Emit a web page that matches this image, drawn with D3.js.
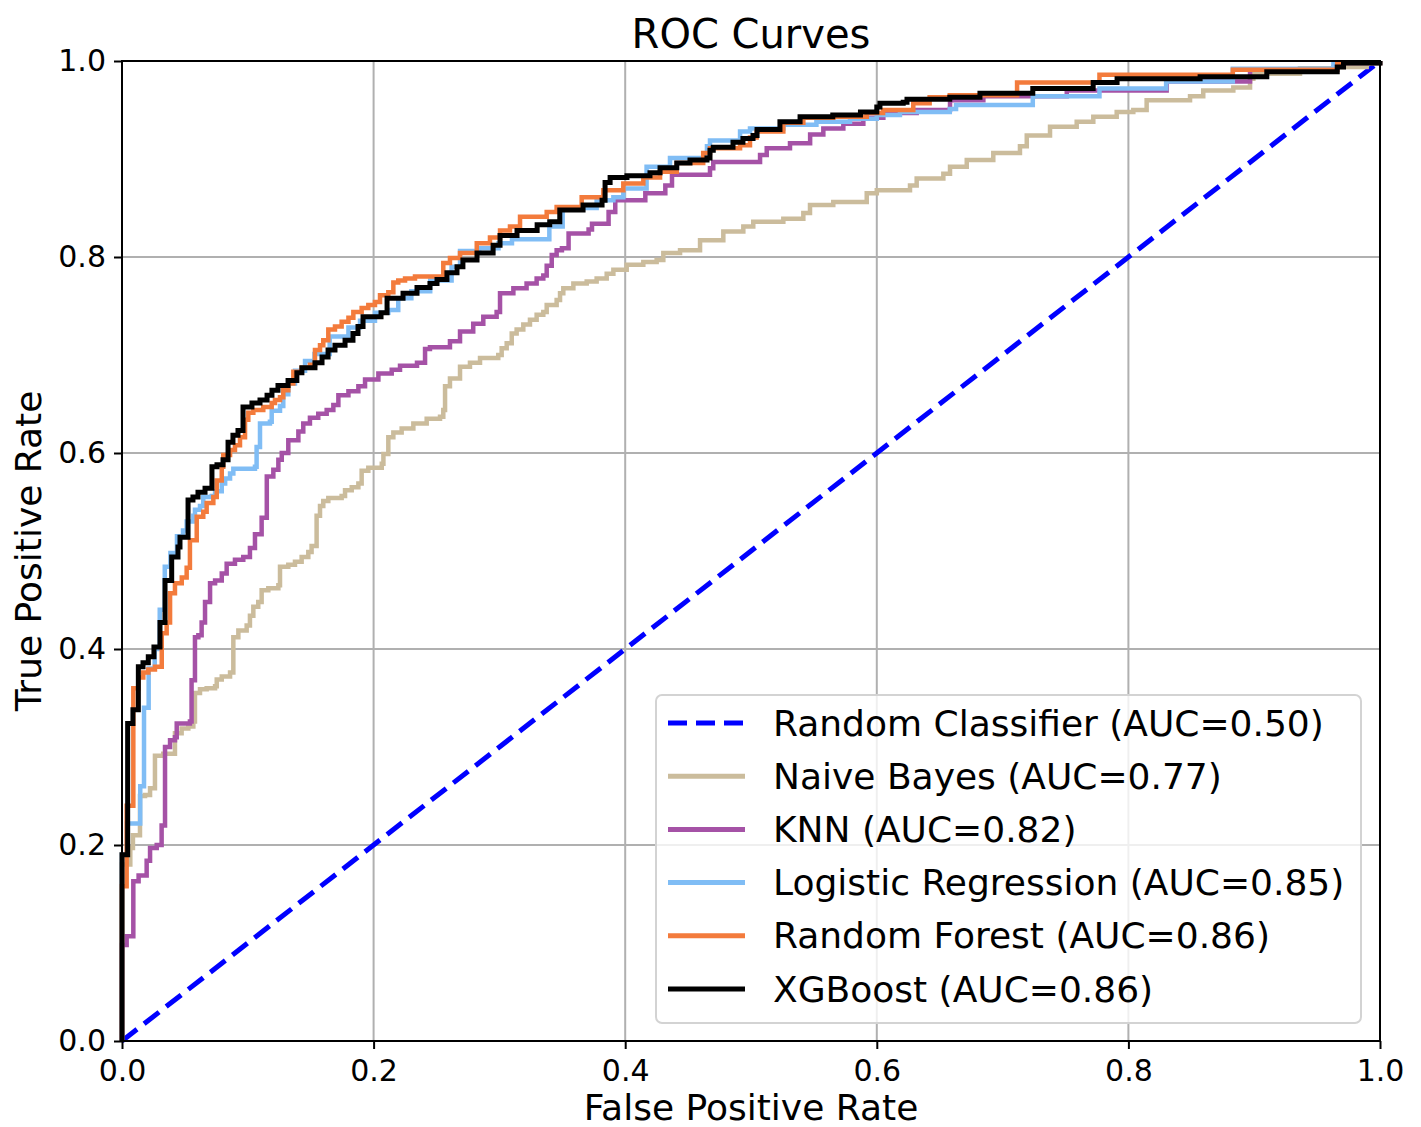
<!DOCTYPE html>
<html>
<head>
<meta charset="utf-8">
<script src="https://cdn.jsdelivr.net/npm/d3@7"></script>
<style>
  body { margin: 0; background: #fff; }
  text { font-family: "DejaVu Sans", sans-serif; fill: #000; }
</style>
</head>
<body>
<svg id="chart" width="1421" height="1127"></svg>
<script>
// ROC points, as [fpr, tpr]
var randomClassifier = [[0, 0], [1, 1]]

var naiveBayes = [[0,0],[0,0.18],[0.0066,0.18],[0.0066,0.197],[0.0087,0.21],[0.0143,0.225],[0.0143,0.25],
  [0.0183,0.251],[0.0223,0.258],[0.0262,0.291],[0.0328,0.293],[0.0421,0.314],[0.0474,0.319],[0.0527,0.321],
  [0.0567,0.326],[0.058,0.355],[0.062,0.359],[0.0673,0.36],[0.074,0.362],[0.0753,0.369],[0.0793,0.372],
  [0.0859,0.376],[0.0885,0.412],[0.0925,0.419],[0.0991,0.424],[0.1017,0.434],[0.1044,0.443],[0.1083,0.448],
  [0.111,0.46],[0.1163,0.462],[0.1243,0.465],[0.1256,0.484],[0.1322,0.486],[0.1375,0.489],[0.1428,0.494],
  [0.1481,0.499],[0.1507,0.505],[0.1547,0.536],[0.1574,0.546],[0.16,0.551],[0.164,0.554],[0.1746,0.556],
  [0.1773,0.562],[0.1826,0.565],[0.1879,0.569],[0.1905,0.582],[0.1958,0.585],[0.2065,0.589],[0.2078,0.599],
  [0.2117,0.616],[0.2157,0.621],[0.2223,0.625],[0.2316,0.63],[0.2422,0.635],[0.2528,0.637],[0.2554,0.644],
  [0.2568,0.668],[0.2607,0.676],[0.2687,0.688],[0.2766,0.692],[0.2846,0.697],[0.2991,0.7],[0.3018,0.707],
  [0.3058,0.712],[0.3098,0.722],[0.3137,0.726],[0.319,0.731],[0.3243,0.736],[0.3296,0.741],[0.3349,0.744],
  [0.3376,0.751],[0.3455,0.756],[0.3482,0.763],[0.3508,0.768],[0.3588,0.773],[0.3694,0.775],[0.3773,0.778],
  [0.3853,0.783],[0.3906,0.787],[0.4012,0.792],[0.4144,0.795],[0.425,0.797],[0.4303,0.804],[0.4436,0.807],
  [0.4595,0.817],[0.478,0.826],[0.4939,0.831],[0.5018,0.836],[0.5257,0.839],[0.5416,0.845],[0.5469,0.853],
  [0.5654,0.856],[0.592,0.865],[0.6,0.868],[0.6264,0.873],[0.6317,0.88],[0.6529,0.885],[0.6582,0.892],
  [0.6715,0.899],[0.6926,0.906],[0.7138,0.913],[0.7192,0.924],[0.7377,0.933],[0.7589,0.938],[0.7721,0.943],
  [0.7907,0.948],[0.8039,0.95],[0.8145,0.96],[0.849,0.964],[0.8595,0.97],[0.8834,0.973],[0.8967,0.982],
  [0.8993,0.987],[0.9364,0.9925],[0.9629,0.994],[0.9894,0.998],[1,1]]

var knn = [[0,0],[0,0.098],[0.0037,0.098],[0.0037,0.107],[0.009,0.107],[0.009,0.163],[0.0132,0.169],
  [0.0183,0.169],[0.0196,0.184],[0.0223,0.197],[0.0276,0.2],[0.0315,0.202],[0.0315,0.22],[0.0342,0.22],
  [0.0342,0.3],[0.0382,0.307],[0.0421,0.31],[0.0435,0.324],[0.054,0.326],[0.0553,0.368],[0.058,0.412],
  [0.0607,0.414],[0.0633,0.427],[0.066,0.448],[0.07,0.467],[0.074,0.47],[0.0793,0.477],[0.0832,0.487],
  [0.0898,0.491],[0.0964,0.494],[0.1017,0.503],[0.1057,0.517],[0.111,0.534],[0.1151,0.576],[0.1203,0.583],
  [0.1243,0.593],[0.127,0.6],[0.1322,0.613],[0.1402,0.622],[0.1441,0.63],[0.1494,0.636],[0.156,0.64],
  [0.1627,0.644],[0.168,0.649],[0.172,0.659],[0.18,0.663],[0.1879,0.668],[0.1932,0.675],[0.2038,0.681],
  [0.2144,0.685],[0.221,0.689],[0.2345,0.692],[0.2409,0.706],[0.2448,0.708],[0.2607,0.714],[0.2687,0.724],
  [0.2792,0.732],[0.2872,0.739],[0.2978,0.744],[0.3005,0.763],[0.3111,0.768],[0.3216,0.773],[0.3296,0.778],
  [0.3349,0.781],[0.3376,0.791],[0.3416,0.802],[0.3455,0.807],[0.3497,0.809],[0.3550,0.824],[0.3709,0.828],
  [0.3736,0.834],[0.3868,0.846],[0.3921,0.858],[0.416,0.865],[0.4319,0.873],[0.4372,0.884],[0.4674,0.8905],
  [0.47,0.897],[0.5072,0.904],[0.5125,0.911],[0.531,0.916],[0.547,0.925],[0.5575,0.931],[0.5734,0.936],
  [0.5893,0.942],[0.6052,0.947],[0.6317,0.95],[0.6582,0.96],[0.6847,0.964],[0.751,0.97],[0.8304,0.979],
  [0.8967,0.991],[0.966,0.998],[1,1]]

var logisticRegression = [[0,0],[0,0.19],[0.004,0.19],[0.004,0.222],[0.0087,0.222],[0.0145,0.26],
  [0.0175,0.34],[0.0212,0.38],[0.026,0.4],[0.03,0.44],[0.034,0.484],[0.0385,0.498],[0.0437,0.515],
  [0.0485,0.521],[0.0514,0.53],[0.0567,0.536],[0.058,0.542],[0.062,0.546],[0.0646,0.555],[0.0713,0.556],
  [0.074,0.561],[0.0793,0.569],[0.082,0.574],[0.0859,0.579],[0.0885,0.584],[0.1057,0.586],[0.107,0.606],
  [0.1097,0.63],[0.1176,0.632],[0.119,0.643],[0.1256,0.648],[0.1282,0.66],[0.1322,0.671],[0.1375,0.684],
  [0.1455,0.694],[0.153,0.701],[0.1651,0.719],[0.18,0.728],[0.1892,0.735],[0.2011,0.743],[0.2117,0.746],
  [0.2196,0.758],[0.23,0.765],[0.245,0.776],[0.262,0.79],[0.2687,0.806],[0.284,0.809],[0.2993,0.814],
  [0.31,0.818],[0.3397,0.831],[0.3503,0.85],[0.3773,0.858],[0.3906,0.861],[0.3985,0.87],[0.417,0.892],
  [0.4356,0.901],[0.465,0.913],[0.4674,0.919],[0.4913,0.928],[0.4992,0.931],[0.5257,0.935],[0.552,0.938],
  [0.5787,0.941],[0.6,0.945],[0.6184,0.948],[0.658,0.951],[0.663,0.955],[0.724,0.964],[0.777,0.972],
  [0.83,0.979],[0.883,0.992],[0.963,0.998],[1,1]]

var randomForest = [[0,0],[0,0.158],[0.0037,0.158],[0.0037,0.24],[0.009,0.24],[0.009,0.36],[0.013,0.371],
  [0.0169,0.376],[0.0209,0.379],[0.0262,0.382],[0.0316,0.416],[0.0355,0.427],[0.0382,0.457],[0.0421,0.467],
  [0.0475,0.473],[0.0514,0.483],[0.054,0.511],[0.0594,0.535],[0.0646,0.54],[0.0673,0.549],[0.0726,0.555],
  [0.0753,0.572],[0.0793,0.586],[0.0805,0.598],[0.0859,0.603],[0.0898,0.608],[0.0938,0.616],[0.0978,0.634],
  [0.1004,0.641],[0.1044,0.644],[0.1123,0.647],[0.119,0.651],[0.1216,0.654],[0.1256,0.657],[0.1282,0.664],
  [0.1322,0.671],[0.1362,0.683],[0.1428,0.687],[0.1494,0.69],[0.1534,0.705],[0.1574,0.71],[0.16,0.715],
  [0.164,0.726],[0.1693,0.729],[0.1746,0.734],[0.18,0.738],[0.1839,0.744],[0.1905,0.748],[0.1958,0.751],
  [0.2011,0.754],[0.2051,0.761],[0.2117,0.764],[0.2157,0.774],[0.2196,0.776],[0.225,0.778],[0.2329,0.78],
  [0.2554,0.794],[0.2607,0.799],[0.2687,0.804],[0.282,0.814],[0.2925,0.82],[0.3005,0.827],[0.3084,0.831],
  [0.3164,0.841],[0.3376,0.846],[0.3455,0.851],[0.3654,0.861],[0.3826,0.868],[0.3985,0.875],[0.4144,0.881],
  [0.4277,0.887],[0.441,0.896],[0.462,0.906],[0.4674,0.911],[0.4913,0.914],[0.4992,0.922],[0.5045,0.928],
  [0.5257,0.937],[0.5416,0.942],[0.5654,0.943],[0.592,0.947],[0.605,0.95],[0.629,0.957],[0.642,0.963],
  [0.658,0.965],[0.7115,0.978],[0.777,0.986],[0.883,0.991],[0.966,0.998],[1,1]]

var xgboost = [[0,0],[0,0.19],[0.0045,0.19],[0.0045,0.324],[0.0087,0.324],[0.0087,0.338],[0.013,0.338],
  [0.013,0.382],[0.0167,0.386],[0.0209,0.392],[0.0254,0.402],[0.0302,0.427],[0.0342,0.47],[0.0395,0.494],
  [0.0445,0.504],[0.0461,0.514],[0.0525,0.552],[0.0564,0.555],[0.0604,0.56],[0.066,0.564],[0.0715,0.586],
  [0.0755,0.588],[0.0803,0.593],[0.0843,0.611],[0.0882,0.618],[0.0922,0.623],[0.0962,0.647],[0.1033,0.651],
  [0.1097,0.654],[0.1153,0.659],[0.1192,0.664],[0.124,0.669],[0.132,0.674],[0.139,0.682],[0.143,0.687],
  [0.1534,0.692],[0.159,0.698],[0.1638,0.705],[0.1693,0.71],[0.1773,0.715],[0.1836,0.722],[0.1876,0.729],
  [0.1916,0.739],[0.2059,0.743],[0.2107,0.758],[0.2234,0.763],[0.2345,0.769],[0.2448,0.773],[0.2504,0.777],
  [0.2583,0.784],[0.2663,0.79],[0.271,0.797],[0.2822,0.804],[0.295,0.812],[0.3005,0.822],[0.314,0.827],
  [0.33,0.833],[0.34,0.836],[0.348,0.848],[0.3665,0.853],[0.3816,0.858],[0.384,0.876],[0.388,0.881],
  [0.4014,0.883],[0.4197,0.886],[0.4277,0.891],[0.441,0.896],[0.4515,0.899],[0.465,0.901],[0.4674,0.909],
  [0.47,0.912],[0.4857,0.917],[0.4936,0.921],[0.5016,0.924],[0.5048,0.93],[0.523,0.938],[0.539,0.943],
  [0.565,0.945],[0.587,0.948],[0.6,0.953],[0.6025,0.957],[0.621,0.958],[0.624,0.961],[0.658,0.963],
  [0.682,0.967],[0.724,0.972],[0.772,0.978],[0.791,0.982],[0.857,0.984],[0.91,0.989],[0.966,0.994],
  [0.971,0.998],[1,1]]

var seriesNames = ['Random Classifier (AUC=0.50)', 'Naive Bayes (AUC=0.77)', 'KNN (AUC=0.82)',
  'Logistic Regression (AUC=0.85)', 'Random Forest (AUC=0.86)', 'XGBoost (AUC=0.86)']
var seriesData = [randomClassifier, naiveBayes, knn, logisticRegression, randomForest, xgboost]
var seriesColors = ['#0000ff', '#cbbc9c', '#a552a6', '#80bdf5', '#f37b3c', '#000000']

var ticks = [0, 0.2, 0.4, 0.6, 0.8, 1.0]

// plot box in pixels (window.top is read-only, so no bare "top")
var plotLeft = 122, plotRight = 1380, plotTop = 61, plotBottom = 1041

var svg = d3.select('#chart')

var x = d3.scaleLinear().domain([0, 1]).range([plotLeft, plotRight])
var y = d3.scaleLinear().domain([0, 1]).range([plotBottom, plotTop])

// grid
svg.append('g')
  .selectAll('line')
  .data(ticks.slice(1, -1))
  .join('line')
  .attr('x1', d => x(d)).attr('x2', d => x(d))
  .attr('y1', plotTop).attr('y2', plotBottom)
  .style('stroke', '#b0b0b0').style('stroke-width', 2)

svg.append('g')
  .selectAll('line')
  .data(ticks.slice(1, -1))
  .join('line')
  .attr('y1', d => y(d)).attr('y2', d => y(d))
  .attr('x1', plotLeft).attr('x2', plotRight)
  .style('stroke', '#b0b0b0').style('stroke-width', 2)

// curves
var stepLine = d3.line()
  .x(d => x(d[0]))
  .y(d => y(d[1]))
  .curve(d3.curveStepAfter)

var straightLine = d3.line()
  .x(d => x(d[0]))
  .y(d => y(d[1]))

seriesData.forEach(function(data, i) {
  var path = svg.append('path')
    .datum(data)
    .attr('d', i == 0 ? straightLine(data) : stepLine(data))
    .style('fill', 'none')
    .style('stroke', seriesColors[i])
    .style('stroke-width', i == 5 ? 5 : 4.5)
  if (i == 0) {
    path.style('stroke-dasharray', '19,9').style('stroke-width', 5)
  }
})

// axes
var xAxis = d3.axisBottom(x).tickValues(ticks).tickFormat(d3.format('.1f')).tickSize(8).tickPadding(11)
var yAxis = d3.axisLeft(y).tickValues(ticks).tickFormat(d3.format('.1f')).tickSize(8).tickPadding(8)

var gx = svg.append('g').attr('transform', 'translate(0,' + plotBottom + ')').call(xAxis)
var gy = svg.append('g').attr('transform', 'translate(' + plotLeft + ',0)').call(yAxis)

;[gx, gy].forEach(function(g) {
  g.select('.domain').remove()
  g.selectAll('.tick line').style('stroke', '#000').style('stroke-width', 2)
  g.selectAll('.tick text').style('font-size', '30px').style('font-family', '"DejaVu Sans", sans-serif')
})

// frame
svg.append('rect')
  .attr('x', plotLeft).attr('y', plotTop)
  .attr('width', plotRight - plotLeft).attr('height', plotBottom - plotTop)
  .style('fill', 'none').style('stroke', '#000').style('stroke-width', 2)

// titles
svg.append('text')
  .attr('x', (plotLeft + plotRight) / 2).attr('y', 48)
  .attr('text-anchor', 'middle')
  .style('font-size', '40px')
  .text('ROC Curves')

svg.append('text')
  .attr('x', (plotLeft + plotRight) / 2).attr('y', 1120)
  .attr('text-anchor', 'middle')
  .style('font-size', '36px')
  .text('False Positive Rate')

svg.append('text')
  .attr('transform', 'translate(41,' + ((plotTop + plotBottom) / 2) + ') rotate(-90)')
  .attr('text-anchor', 'middle')
  .style('font-size', '36px')
  .text('True Positive Rate')

// legend
var legend = svg.append('g').attr('transform', 'translate(656,695)')

legend.append('rect')
  .attr('width', 705).attr('height', 328)
  .attr('rx', 6).attr('ry', 6)
  .style('fill', 'rgba(255,255,255,0.8)')
  .style('stroke', '#d3d3d3').style('stroke-width', 2)

var rows = legend.selectAll('g')
  .data(seriesNames)
  .join('g')
  .attr('transform', (d, i) => 'translate(0,' + (28 + i * 53.2) + ')')

rows.append('line')
  .attr('x1', 12).attr('x2', 89)
  .style('stroke', (d, i) => seriesColors[i])
  .style('stroke-width', 5)
  .style('stroke-dasharray', (d, i) => i == 0 ? '19,9' : null)

rows.append('text')
  .attr('x', 117).attr('y', 12.5)
  .style('font-size', '36px')
  .text(d => d)
</script>
</body>
</html>
